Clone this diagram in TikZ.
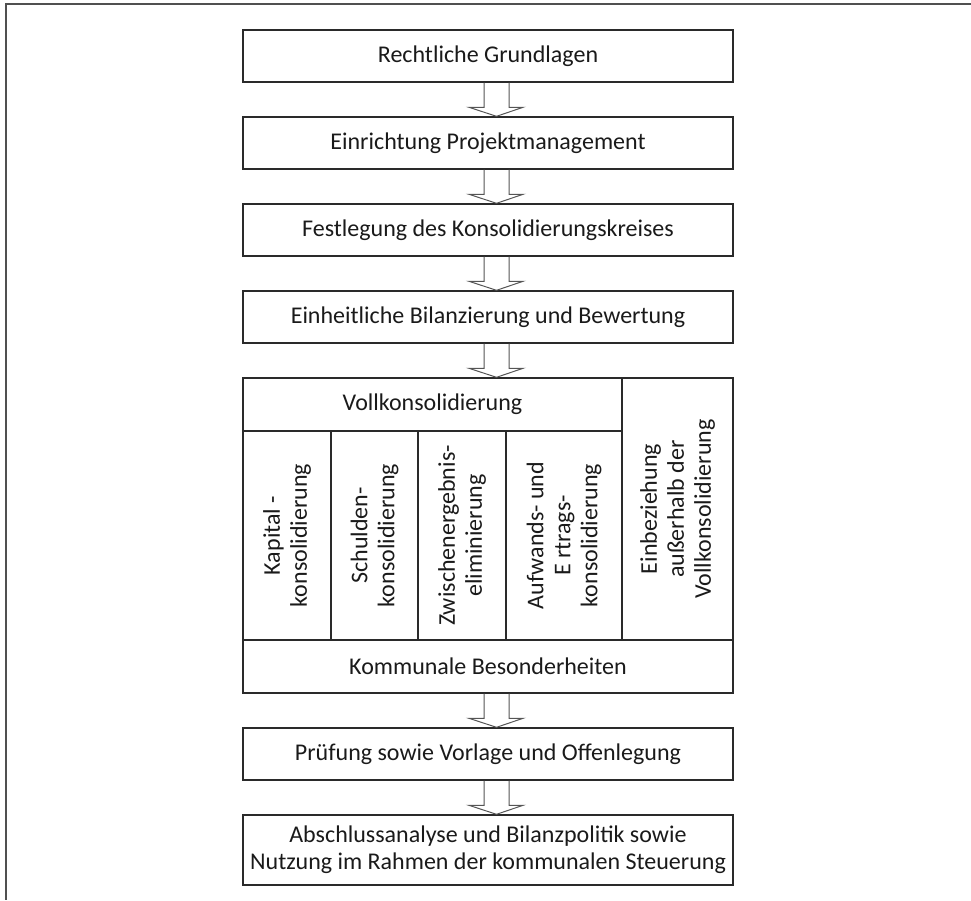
\documentclass[tikz,border=0pt]{standalone}
\usepackage{fontspec}
\setmainfont{Carlito}
\usetikzlibrary{calc}
\definecolor{boxcol}{HTML}{2A2A2A}
\definecolor{arrcol}{HTML}{555555}
\definecolor{framecol}{HTML}{505050}
\definecolor{txtcol}{HTML}{1A1A1A}
\newcommand\blockarrow[2]{%
  \draw[arrline] ($(#1.south -| ax)+(-12.5,0)$) -- ($(#2.north -| ax)+(-12.5,-9)$)
    -- ($(#2.north -| ax)+(-27.5,-9)$) -- (#2.north -| ax)
    -- ($(#2.north -| ax)+(26.5,-9)$) -- ($(#2.north -| ax)+(12.5,-9)$)
    -- ($(#1.south -| ax)+(12.5,0)$);}
\begin{document}
\begin{tikzpicture}[x=1pt,y=-1pt,
  box/.style={draw=boxcol, line width=1.4pt, rectangle, inner sep=0pt,
    align=center, font=\fontsize{24}{27}\selectfont, text=txtcol},
  arrline/.style={draw=arrcol, line width=1pt, line join=miter},
  frame/.style={draw=framecol, line width=1.6pt}]
\useasboundingbox (0,0) rectangle (971,900);
\draw[frame] (5,4) -- (971,4);
\draw[frame] (6,4) -- (6,900);
\coordinate (ax) at (496.5,0);
% main boxes
\node[box, minimum width=490pt, minimum height=52pt] (b1) at (488,56) {Rechtliche Grundlagen};
\node[box, minimum width=490pt, minimum height=52pt] (b2) at (488,143) {Einrichtung Projektmanagement};
\node[box, minimum width=490pt, minimum height=52pt] (b3) at (488,230) {Festlegung des Konsolidierungskreises};
\node[box, minimum width=490pt, minimum height=52pt] (b4) at (488,317) {Einheitliche Bilanzierung und Bewertung};
% big block
\node[box, minimum width=379pt, minimum height=53pt] (vt) at (432.5,404.5) {Vollkonsolidierung};
\node[box, rotate=90, minimum width=209pt, minimum height=88pt] (c1) at (287,535.5) {Kapital -\\konsolidierung};
\node[box, rotate=90, minimum width=209pt, minimum height=87pt] (c2) at (374.5,535.5) {Schulden-\\konsolidierung};
\node[box, rotate=90, minimum width=209pt, minimum height=88pt] (c3) at (462,535.5) {Zwischenergebnis-\\eliminierung};
\node[box, rotate=90, minimum width=209pt, minimum height=116pt] (c4) at (564,535.5) {Aufwands- und\\E rtrags-\\konsolidierung};
\node[box, rotate=90, minimum width=262pt, minimum height=111pt] (ein) at (677.5,509) {Einbeziehung\\außerhalb der\\Vollkonsolidierung};
\node[box, minimum width=490pt, minimum height=53pt] (komm) at (488,666.5) {Kommunale Besonderheiten};
% lower boxes
\node[box, minimum width=490pt, minimum height=52pt] (b6) at (488,754) {Prüfung sowie Vorlage und Offenlegung};
\node[box, minimum width=490pt, minimum height=70pt] (b7) at (488,850) {Abschlussanalyse und Bilanzpolitik sowie\\Nutzung im Rahmen der kommunalen Steuerung};
% arrows
\blockarrow{b1}{b2}
\blockarrow{b2}{b3}
\blockarrow{b3}{b4}
\blockarrow{b4}{vt}
\blockarrow{komm}{b6}
\blockarrow{b6}{b7}
\end{tikzpicture}
\end{document}
